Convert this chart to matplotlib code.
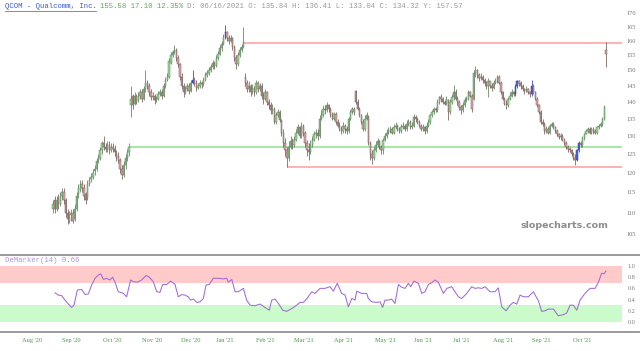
import numpy as np
import matplotlib
matplotlib.use('Agg')
import matplotlib.pyplot as plt
from matplotlib.lines import Line2D
from matplotlib.ticker import NullLocator

plt.rcParams['font.family'] = ['Liberation Serif', 'DejaVu Sans']

# daily candles (bar 0 .. 305)
opens = [
    # 0-42
    111, 113, 111, 113.5, 112, 114, 115, 113, 110, 108,
    109.5, 110, 108.5, 111, 114.5, 115.5, 117, 116, 114.5, 113.5,
    117, 118.5, 119, 120.5, 121, 123.5, 124, 126, 128, 127,
    126.5, 127.5, 126, 127, 126.5, 125, 124.5, 123.5, 121, 119.5,
    122, 124, 125.5,
    # 43-105
    139, 142, 139.5, 142, 140.5, 142, 143, 141, 144, 146,
    145, 143, 141.5, 142, 140.5, 141, 142.5, 143, 142, 145,
    147, 148, 152.5, 155, 156, 157, 154, 152, 148, 145,
    143, 144, 145, 143.5, 146, 147, 146, 144.5, 145, 146,
    145.5, 147, 148.5, 149, 150, 151, 152.5, 151.5, 154, 155.5,
    157.5, 159, 161.5, 163, 161, 160, 161, 158, 154, 152,
    155, 157, 158,
    # 106-152
    148, 146, 144, 145, 143, 144.5, 143, 146, 144, 145,
    142, 141, 143, 140, 139, 137.5, 138, 134, 136, 137,
    134.5, 131, 128, 126, 124, 127, 128.5, 127.5, 129, 131,
    132.5, 130, 133, 131, 128, 126, 125.5, 127.5, 129, 130.5,
    131, 130, 135, 136, 138, 137.5, 139,
    # 153-220
    138, 136, 135, 136.5, 134, 133, 132, 131.5, 133, 132,
    131.5, 135, 137, 138, 143.5, 140, 138, 136, 134, 132,
    135, 135.5, 128, 125, 124, 126, 127.5, 128.5, 127, 126,
    129, 130, 131, 131.5, 132, 131, 132.5, 133, 132, 131.5,
    132.5, 133, 132, 133.5, 134, 132.5, 133, 135.5, 135, 134,
    133, 132, 132.5, 131.5, 133, 134, 136, 137, 138, 137.5,
    140, 141.5, 141, 140, 139.5, 140.5, 137, 140,
    # 221-305
    141.5, 143, 141, 140, 138.5, 137.5, 139, 140.5, 141, 143,
    142, 141, 149, 150, 148.5, 147.5, 148, 147, 146, 145,
    146.5, 145, 144.5, 146, 146.5, 148, 146, 143, 141, 139.5,
    139, 141, 142, 143, 142.5, 145, 146.5, 146, 145, 144,
    143.5, 144, 143, 142.5, 145, 143, 141, 139, 137, 134,
    133.5, 131.5, 132, 131, 133, 133.5, 132.5, 131.5, 130.5, 129.8,
    130, 129, 128, 127, 126.5, 126, 125, 124, 123.5, 126,
    128, 127.5, 129.5, 130.5, 131.5, 132, 131, 132, 131.5, 131,
    132.5, 133, 133.5, 135, 157,
]

highs = [
    113, 114, 114, 114.5, 115, 116, 116, 113.5, 111, 110.5,
    111, 111, 112, 115, 117, 118, 118, 117, 115, 118,
    119, 120, 121, 122, 124, 125, 127, 128.5, 130, 128,
    128.5, 128.5, 128, 128, 127.5, 126, 125.5, 124, 122, 123,
    125, 126.5, 128,
    145, 142.5, 143, 142.5, 143, 144, 144, 145, 150, 147,
    146, 144, 143, 142.5, 142, 143.5, 144, 144, 146, 148,
    149, 154, 156, 157, 158.5, 157.5, 155, 152.5, 149, 146,
    145, 146, 146, 147, 150, 148, 147, 146, 147, 146.5,
    148, 149.5, 150, 151, 152, 153.5, 153, 155, 156.5, 158.5,
    160, 162.5, 165.6, 163.5, 162, 162, 161.5, 158.5, 155, 156,
    158, 159, 165,
    149, 147, 146.5, 145.5, 145.5, 145, 147, 146.5, 146, 146,
    143, 144, 143.5, 141, 140, 139.5, 138.5, 137, 138, 137.5,
    135, 132, 129.5, 127, 128.5, 130, 129.5, 130, 132, 133.5,
    133, 134, 133.5, 131.5, 129, 128, 129, 130, 131.5, 132,
    132, 136, 137.5, 139, 139, 140, 139.5,
    138.5, 137, 137, 137, 135, 134, 133, 134, 133.5, 133,
    135.5, 137.5, 138.5, 138.5, 143.8, 141, 138.5, 136.5, 135, 136,
    137, 136, 128.5, 126, 127, 128.5, 129.5, 129, 127.5, 129.5,
    131, 132, 132.5, 133, 132.5, 133.5, 134, 133.5, 132.5, 133.5,
    134, 133.5, 134.5, 135, 134.5, 134, 136.5, 136, 135.5, 134.5,
    133.5, 133.5, 133, 134, 135, 136.5, 137.5, 138.5, 138.5, 141,
    142, 142.5, 141.5, 140.5, 142, 141, 141, 142.5,
    145.3, 144, 142, 140.5, 139, 140, 141.5, 142, 143.7, 143.5,
    142.5, 150, 151.5, 150.5, 149, 149, 148.5, 147.5, 146.5, 147.5,
    146.5, 146, 147, 147.5, 148.5, 148.5, 146.5, 143.5, 141.5, 140.5,
    141.5, 143, 144, 143.5, 145.5, 147, 147, 146.5, 145.5, 144.5,
    145, 144.5, 143.5, 147, 145.5, 143.5, 141.5, 139.5, 137.5, 135,
    134, 133, 132.5, 133.5, 134, 134, 133, 132, 131, 131,
    130.5, 129.5, 128.5, 127.5, 127, 126.5, 125.5, 125, 126.5, 128.5,
    128.5, 130, 131, 132, 132.5, 132.5, 132.5, 132.5, 132, 133,
    133.5, 134, 135.5, 139, 159.5,
]

lows = [
    110, 110, 110.5, 111, 111.5, 113, 112, 109, 107.2, 107.5,
    108, 107.5, 108, 110.5, 113.5, 115, 115, 113, 112, 113,
    116.5, 117.5, 118.5, 119.5, 120.5, 122.5, 123.5, 125, 126, 125.5,
    125.5, 125, 125.5, 125.5, 124.5, 123, 122.5, 120, 118.5, 119,
    121, 123, 124.5,
    135.6, 138, 139, 139.5, 140, 141, 140, 140.5, 143, 144,
    142, 140.5, 140.5, 139.5, 140, 140.5, 142, 141, 141.5, 144.5,
    146.5, 147.5, 152, 154.5, 155.5, 153, 151, 147, 144, 141.5,
    142.5, 143.5, 142.5, 143, 145.5, 145, 143.5, 144, 144.5, 144.5,
    145, 146.5, 148, 148.5, 149.5, 150.5, 150.5, 151, 153.5, 155,
    156.5, 158.5, 160.5, 160, 159, 159.5, 157, 153, 150.5, 151.5,
    154.5, 156, 157.5,
    145, 143, 143, 142, 142.5, 142, 142.5, 143, 143.5, 141,
    139.5, 140.5, 139, 138, 136.5, 136.5, 133.5, 133.5, 135.5, 134,
    130, 127, 124.5, 121.5, 123, 126.5, 126.5, 127, 128.5, 130.5,
    129.5, 129.5, 130, 127, 124.5, 123.4, 125, 127, 128.5, 129.5,
    129, 129.5, 134.5, 135.5, 136.5, 137, 137,
    135.5, 134.5, 134.5, 133.5, 132.5, 131.5, 130.5, 131, 131, 130.5,
    131, 134.5, 136.5, 136, 139.5, 137.5, 135.5, 133.5, 131.5, 131.5,
    134.5, 127.5, 123.5, 122.4, 123.5, 125.5, 127, 126.5, 125, 125,
    128.5, 129.5, 130.5, 131, 130.5, 130.5, 132, 131.5, 131, 131,
    132, 131.5, 131.5, 133, 132, 132, 132.5, 134, 133.5, 132.5,
    131.5, 131.5, 130.5, 131, 132.5, 133.5, 135.5, 136.5, 137, 137,
    139.5, 140, 139.5, 139, 139, 134.6, 136.5, 139.5,
    140.5, 140.5, 139, 137.5, 136.5, 137, 138.5, 140, 140.5, 141.5,
    137, 140.5, 148, 147.5, 146.5, 147, 146, 145, 144, 141.5,
    144.5, 143.5, 144, 145.5, 146, 145.5, 142.5, 140.5, 139, 138,
    138.5, 140.5, 141.5, 142, 142, 144.5, 145, 144, 143.5, 142.5,
    143, 142.5, 141.5, 142, 142.5, 140.5, 138.5, 136.5, 133.5, 133,
    130.7, 131, 130.5, 130.5, 132.5, 132, 131, 130, 129.3, 129,
    128.5, 127.5, 126.5, 125.5, 125.5, 124.5, 123.5, 122, 123, 125.5,
    127, 127, 129, 130.5, 131, 130.5, 130.5, 130.5, 130.5, 130.5,
    132, 132.5, 133, 134.5, 151,
]

closes = [
    112, 111, 113, 112, 114, 115, 113, 110, 108.5, 109,
    110, 108, 111, 114, 116, 117, 116, 114, 113, 117,
    118, 119, 120, 121, 123, 124, 126, 128, 127, 126.5,
    127.5, 126, 127, 126.5, 125.5, 124, 123.5, 121, 119.5, 122,
    124, 125.5, 127,
    141, 139, 142, 140, 142, 143, 141, 144, 146, 145,
    143, 141.5, 142, 140.5, 141, 142.5, 143, 142, 145, 147,
    148, 153, 155, 156, 157, 154, 152, 148, 145, 143,
    144, 145, 143.5, 146, 147, 146, 144.5, 145, 146, 145.5,
    147, 148.5, 149, 150, 151, 152.5, 151.5, 154, 155.5, 157.5,
    159, 161.5, 163, 161, 160, 161, 158, 154, 152, 155,
    157, 158, 159.5,
    146, 144, 145, 143, 144.5, 143, 146, 144, 145, 142,
    141, 143, 140, 139, 137.5, 138, 134, 136, 137, 134.5,
    131, 128, 126, 124, 127, 128.5, 127.5, 129, 131, 132.5,
    130, 133, 131, 128, 126, 125.5, 127.5, 129, 130.5, 131,
    130, 135, 136, 138, 137.5, 139, 138,
    136, 135, 136.5, 134, 133, 132, 131.5, 133, 132, 131.5,
    135, 137, 138, 137, 140, 138, 136, 134, 132, 135,
    136, 128, 125, 124, 126, 127.5, 128.5, 127, 126, 129,
    130, 131, 131.5, 132, 131, 132.5, 133, 132, 131.5, 132.5,
    133, 132, 133.5, 134, 132.5, 133, 135.5, 135, 134, 133,
    132, 132.5, 131.5, 133, 134, 136, 137, 138, 137.5, 140,
    141.5, 141, 140, 139.5, 141, 137, 140, 141.5,
    143, 141, 140, 138.5, 137.5, 139, 140.5, 141, 143, 142,
    138, 149, 150, 148.5, 147.5, 148, 147, 146, 145, 146.5,
    145, 144.5, 146, 146.5, 148, 146, 143, 141, 139.5, 139,
    141, 142, 143, 142.5, 145, 146.5, 146, 145, 144, 143.5,
    144, 143, 142.5, 145, 143, 141, 139, 137, 134, 133.5,
    131.5, 132, 131, 133, 133.5, 132.5, 131.5, 130.5, 129.8, 130,
    129, 128, 127, 126.5, 126, 125, 124, 123.5, 126, 128,
    127.5, 129.5, 130.5, 131.5, 132, 131, 132, 131.5, 131, 132.5,
    133, 133.5, 135, 138.5, 155.6,
]

# candles drawn in blue on the source chart
blue_bars = [77, 95, 255, 256, 264, 289, 290]

# horizontal trend lines: price level and bar where they start
level_price = [159.3, 121.5, 127.0]
level_start = [105, 129, 42]
level_color = ['#ff9c9c', '#ff9c9c', '#8ee08e']

price_ticks = [105, 110, 115, 120, 125, 130, 135, 140, 145, 150, 155, 160, 165, 170]

# DeMarker(14), sampled along the line (bar index, value)
dm_idx = [1.1, 2.9, 4.8, 6.6, 8.5, 10.3, 11.6, 13.4, 15.8, 17.7, 19.5, 21.3, 23.2, 25.0,
          26.3, 27.8, 29.6, 31.4, 32.9, 34.2, 36.0, 38.8, 40.6, 42.8, 44.3, 46.5, 48.9,
          51.3, 53.1, 55.3, 57.2, 59.0, 60.5, 62.7, 64.9, 67.3, 69.1, 71.0, 72.8, 74.6,
          75.9, 77.4, 79.3, 81.1, 82.9, 84.4, 86.2, 88.4, 91.2, 93.9, 95.8, 96.7, 98.6,
          100.4, 102.2, 105.0, 106.8, 108.7, 111.4, 114.2, 116.9, 119.3, 120.6, 122.5,
          124.3, 126.7, 128.9, 131.7, 134.4, 136.2, 138.1, 139.9, 142.7, 144.5, 147.3,
          150.0, 152.8, 154.6, 156.8, 159.2, 161.1, 162.9, 164.8, 166.6, 167.5, 170.3,
          173.0, 173.9, 175.8, 178.5, 180.4, 181.8, 183.1, 184.9, 186.8, 188.6, 190.5,
          192.3, 194.2, 196.0, 197.3, 199.1, 201.5, 203.4, 205.2, 207.0, 208.9, 210.7,
          212.5, 215.3, 217.2, 219.9, 221.7, 223.6, 225.4, 228.2, 230.9, 232.8, 234.6,
          236.5, 238.3, 241.0, 243.8, 245.6, 247.5, 249.9, 252.1, 253.9, 255.8, 257.6,
          259.4, 262.2, 264.9, 267.7, 269.5, 271.4, 273.2, 276.0, 278.7, 281.5, 283.3,
          285.2, 287.0, 288.9, 290.7, 293.4, 296.2, 299.0, 300.8, 302.6, 303.9, 305.0]
dm_val = [0.52, 0.48, 0.47, 0.39, 0.32, 0.26, 0.30, 0.57, 0.58, 0.49, 0.50, 0.66, 0.78, 0.84,
          0.86, 0.76, 0.78, 0.75, 0.80, 0.71, 0.54, 0.51, 0.45, 0.75, 0.72, 0.71, 0.75,
          0.83, 0.80, 0.72, 0.54, 0.53, 0.67, 0.67, 0.73, 0.67, 0.45, 0.49, 0.48, 0.45,
          0.39, 0.41, 0.35, 0.36, 0.42, 0.66, 0.67, 0.78, 0.78, 0.77, 0.78, 0.71, 0.76,
          0.54, 0.54, 0.60, 0.39, 0.30, 0.29, 0.32, 0.26, 0.21, 0.39, 0.41,
          0.33, 0.21, 0.19, 0.24, 0.30, 0.35, 0.35, 0.41, 0.54, 0.51, 0.60,
          0.60, 0.63, 0.55, 0.69, 0.51, 0.48, 0.27, 0.42, 0.39, 0.55, 0.51,
          0.51, 0.42, 0.36, 0.35, 0.36, 0.26, 0.39, 0.39, 0.41, 0.33, 0.67,
          0.62, 0.60, 0.69, 0.63, 0.73, 0.69, 0.51, 0.54, 0.67, 0.70, 0.75,
          0.71, 0.51, 0.60, 0.63, 0.54, 0.45, 0.42, 0.51, 0.63, 0.60, 0.61,
          0.60, 0.63, 0.54, 0.54, 0.61, 0.27, 0.20, 0.30, 0.35, 0.32, 0.48,
          0.45, 0.45, 0.54, 0.38, 0.19, 0.20, 0.23, 0.23, 0.11, 0.13, 0.16,
          0.30, 0.30, 0.21, 0.39, 0.51, 0.60, 0.60, 0.71, 0.87, 0.86, 0.91]

month_labels = ["Aug '20", "Sep '20", "Oct '20", "Nov '20", "Dec '20", "Jan '21", "Feb '21",
                "Mar '21", "Apr '21", "May '21", "Jun '21", "Jul '21", "Aug '21", "Sep '21",
                "Oct '21"]
month_pos = [-11.4, 9.9, 32.9, 54.8, 76.0, 95.0, 117.3, 138.6, 160.1, 183.1, 204.2,
             225.0, 248.0, 269.5, 291.6]

dm_ticks = [0.0, 0.2, 0.4, 0.6, 0.8, 1.0]

assert len(opens) == len(highs) == len(lows) == len(closes)
assert len(dm_idx) == len(dm_val)

o = np.array(opens, dtype=float)
h = np.array(highs, dtype=float)
l = np.array(lows, dtype=float)
c = np.array(closes, dtype=float)
n = len(c)
x = np.arange(n)

W, H = 640, 351
fig = plt.figure(figsize=(6.4, 3.51), dpi=100)

def fx(px):
    return px / W

def fy(py):
    return 1 - py / H

# first bar at 53px, last bar at 606px, plot area 0..622px
step = (606 - 53) / (n - 1)
xlo = -53 / step
xhi = xlo + 622 / step

# ---- price panel ----
ax = fig.add_axes([0, fy(250), fx(622), 250 / H])
ax.set_yscale('log')
ax.set_ylim(101.4, 174.9)
ax.set_xlim(xlo, xhi)

up = c >= o
fill = np.where(up, '#94dc94', '#dba8a8').astype(object)
edge = np.where(up, '#5c805c', '#765858').astype(object)
for b in blue_bars:
    fill[b] = '#4d62e0'
    edge[b] = '#3040b0'

ax.vlines(x, l, h, colors=list(edge), linewidth=0.55, zorder=2)
body_lo = np.minimum(o, c)
body_h = np.maximum(np.abs(c - o), 0.15)
ax.bar(x, body_h, bottom=body_lo, width=0.75, color=list(fill),
       edgecolor=list(edge), linewidth=0.35, zorder=3)

for p, s, col in zip(level_price, level_start, level_color):
    ax.hlines(p, s, xhi, colors=col, linewidth=1.1, zorder=1)

ax.yaxis.tick_right()
ax.set_yticks(price_ticks)
ax.set_yticklabels([str(t) for t in price_ticks])
ax.yaxis.set_minor_locator(NullLocator())
ax.tick_params(axis='y', length=0, pad=3, labelsize=4.6, labelcolor='#777777')
ax.set_xticks([])
for sp in ax.spines.values():
    sp.set_visible(False)

fig.text(fx(608), fy(225), 'slopecharts.com', ha='right', va='center',
         fontsize=6.8, fontweight='bold', color='#8c8c8c', family='DejaVu Sans')

# header line
fs = 5.2
cw = 0.6 * fs * 100 / 72
x0 = 5
fig.text(fx(x0), fy(6), 'QCOM - Qualcomm, Inc.', ha='left', va='center',
         fontsize=fs, color='#3b5bcc', family='Liberation Mono')
fig.add_artist(Line2D([fx(x0), fx(x0 + 21 * cw)], [fy(10.5), fy(10.5)],
                      color='#3b5bcc', linewidth=0.5))
fig.text(fx(x0 + 22 * cw), fy(6), '155.58 17.10 12.35%', ha='left', va='center',
         fontsize=fs, color='#5aad5a', family='Liberation Mono')
fig.text(fx(x0 + 42 * cw), fy(6),
         'D: 06/16/2021 O: 135.84 H: 136.41 L: 133.04 C: 134.32 Y: 157.57',
         ha='left', va='center', fontsize=fs, color='#9a9a9a', family='Liberation Mono')

# ---- DeMarker panel ----
ax2 = fig.add_axes([0, fy(332), fx(622), 77 / H])
ax2.set_xlim(xlo, xhi)
ax2.set_ylim(-0.179, 1.196)
ax2.axhspan(0.7, 1.0, color='#ffcaca', linewidth=0, zorder=0)
ax2.axhspan(0.0, 0.3, color='#cbfbcb', linewidth=0, zorder=0)
ax2.plot(dm_idx, dm_val, color='#a06ad6', linewidth=0.75, zorder=2)

ax2.yaxis.tick_right()
ax2.set_yticks(dm_ticks)
ax2.set_yticklabels(['%.1f' % t for t in dm_ticks])
ax2.tick_params(axis='y', length=0, pad=4, labelsize=4.4, labelcolor='#777777')
ax2.set_xticks(month_pos)
ax2.set_xticklabels(month_labels)
ax2.tick_params(axis='x', length=0, pad=4.5, labelsize=4.6, labelcolor='#4c9a4c')
for sp in ax2.spines.values():
    sp.set_visible(False)

fig.text(fx(5), fy(261), 'DeMarker(14) 0.66', ha='left', va='center',
         fontsize=fs, color='#b48ee0', family='Liberation Mono')

for py in (255, 332):
    fig.add_artist(Line2D([0, 1], [fy(py), fy(py)], color='#8a8a8a', linewidth=1.2))

fig.savefig('out.png', dpi=100)
